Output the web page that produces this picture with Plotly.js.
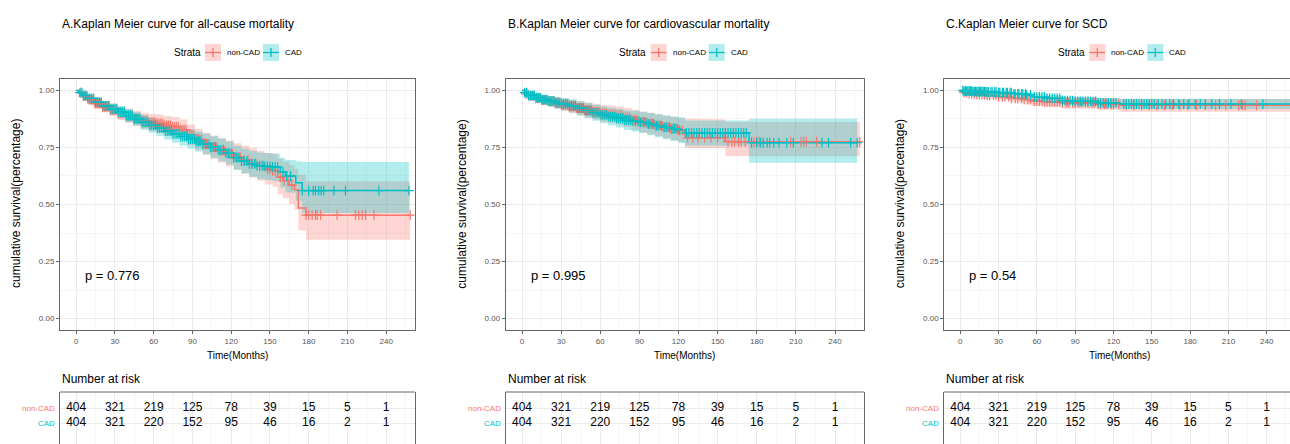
<!DOCTYPE html>
<html>
<head>
<meta charset="utf-8">
<script src="https://cdn.plot.ly/plotly-3.0.1.min.js"></script>
<style>
html,body{margin:0;padding:0;overflow:hidden;background:#fff;width:1290px;height:444px;}
#chart{width:1300px;height:444px;}
</style>
</head>
<body>
<div id="chart"></div>
<script>
// ---------------- DATA ----------------
const groups = ["non-CAD", "CAD"];
const panelTitles = [
  "A.Kaplan Meier curve for all-cause mortality",
  "B.Kaplan Meier curve for cardiovascular mortality",
  "C.Kaplan Meier curve for SCD"
];
const pValues = ["p = 0.776", "p = 0.995", "p = 0.54"];
const xTicks = [0, 30, 60, 90, 120, 150, 180, 210, 240];
const riskNonCAD = [404, 321, 219, 125, 78, 39, 15, 5, 1];
const riskCAD = [404, 321, 220, 152, 95, 46, 16, 2, 1];

// Panel A (all-cause mortality)
const A_nonCAD_time  = [0,2,5,9,14,20,26,32,38,44,50,56,62,68,74,80,86,92,98,104,110,116,122,128,134,140,146,152,156,160,165,169,172,178];
const A_nonCAD_surv  = [1.0,0.99,0.975,0.96,0.942,0.928,0.915,0.9,0.888,0.877,0.867,0.86,0.855,0.847,0.84,0.828,0.805,0.785,0.765,0.75,0.735,0.722,0.708,0.695,0.68,0.668,0.655,0.648,0.62,0.605,0.585,0.565,0.485,0.453];
const A_nonCAD_lower = [1.0,0.98,0.96,0.94,0.92,0.903,0.887,0.87,0.857,0.845,0.833,0.824,0.818,0.808,0.8,0.786,0.761,0.74,0.718,0.7,0.683,0.668,0.652,0.636,0.618,0.604,0.588,0.578,0.545,0.527,0.502,0.478,0.386,0.346];
const A_nonCAD_upper = [1.0,1.0,0.99,0.98,0.965,0.953,0.943,0.93,0.92,0.911,0.902,0.897,0.894,0.888,0.882,0.872,0.851,0.832,0.814,0.802,0.79,0.78,0.768,0.758,0.746,0.736,0.726,0.722,0.7,0.688,0.672,0.656,0.63,0.602];
const A_nonCAD_end = 258.6;
const A_nonCAD_censor = [4,5.5,7,8.5,10,11.5,13,14.5,16,17.5,19,20.5,22,23.5,25,26.5,28,29.5,31,32.5,34,35.5,37,38.5,40,41.5,43,44.5,46,47.5,49,50.5,52,53.5,55,56.5,58,59.5,61,62.5,64,65.5,67,68.5,70,71.5,73,74.5,76,77.5,79,80.5,82,83.5,85,86.5,88,89.5,91,92.5,94,95.5,97,99,101,103,105,107,109,111,113,115,117,119,121,123,125,127,130,133,136,139,142,145,148,150,152,154,158,161,164,167,178,180,182.7,185.3,186.6,189.2,202,216.2,218.8,221.4,224,230.5,258.6];
const A_CAD_time  = [0,2,5,9,14,20,26,32,38,44,50,56,62,68,74,80,86,92,98,104,110,116,122,128,134,140,146,152,158,162,170,175];
const A_CAD_surv  = [1.0,0.99,0.978,0.965,0.948,0.932,0.918,0.905,0.89,0.875,0.86,0.847,0.835,0.822,0.81,0.798,0.787,0.776,0.765,0.752,0.74,0.725,0.705,0.69,0.678,0.67,0.667,0.665,0.642,0.625,0.595,0.561];
const A_CAD_lower = [1.0,0.98,0.965,0.948,0.928,0.909,0.893,0.878,0.861,0.845,0.828,0.814,0.8,0.785,0.772,0.758,0.745,0.732,0.72,0.705,0.691,0.675,0.652,0.636,0.622,0.612,0.607,0.603,0.574,0.553,0.516,0.463];
const A_CAD_upper = [1.0,1.0,0.99,0.982,0.968,0.955,0.943,0.932,0.919,0.905,0.892,0.88,0.87,0.859,0.848,0.838,0.829,0.82,0.81,0.799,0.789,0.776,0.758,0.744,0.734,0.728,0.725,0.722,0.705,0.695,0.69,0.686];
const A_CAD_end = 257.6;
const A_CAD_censor = [3,4.5,6,7.5,9,10.5,12,13.5,15,16.5,18,19.5,21,22.5,24,25.5,27,28.5,30,31.5,33,34.5,36,37.5,39,40.5,42,43.5,45,46.5,48,49.5,51,52.5,54,55.5,57,58.5,60,61.5,63,64.5,66,67.5,69,70.5,72,73.5,75,76.5,78,79.5,81,82.5,84,85.5,87,88.5,90,91.5,93,94.5,96,98,100,102,104,106,108,110,112,114,116,118,120,122,124,126,128,130,132,134,136,138,140,142,144,146,148,150,152,154,156,160,163,166,175,180,183.5,185.3,187.8,189.7,191.7,199.5,208.5,234.3,257.6];

// Panel B (cardiovascular mortality)
const B_nonCAD_time  = [0,2,5,10,15,20,25,30,36,42,48,54,60,66,72,78,84,90,96,102,108,114,120,125,156];
const B_nonCAD_surv  = [1.0,0.985,0.975,0.965,0.958,0.952,0.945,0.938,0.93,0.922,0.914,0.907,0.9,0.895,0.89,0.882,0.872,0.862,0.855,0.848,0.84,0.833,0.825,0.793,0.775];
const B_nonCAD_lower = [1.0,0.972,0.958,0.945,0.936,0.928,0.919,0.91,0.9,0.89,0.88,0.872,0.863,0.857,0.851,0.84,0.828,0.816,0.808,0.8,0.79,0.782,0.773,0.748,0.712];
const B_nonCAD_upper = [1.0,0.998,0.99,0.983,0.979,0.975,0.97,0.965,0.959,0.953,0.947,0.942,0.936,0.933,0.929,0.923,0.915,0.907,0.902,0.896,0.89,0.884,0.877,0.874,0.862];
const B_nonCAD_end = 259;
const B_nonCAD_censor = [3,4.5,6,7.5,9,10.5,12,13.5,15,16.5,18,19.5,21,22.5,24,25.5,27,28.5,30,31.5,33,34.5,36,37.5,39,40.5,42,43.5,45,46.5,48,49.5,51,52.5,54,55.5,57,58.5,60,61.5,63,64.5,66,67.5,69,70.5,72,73.5,75,76.5,78,79.5,81,82.5,84,86,88,90,92,94,96,98,100,102,104,106,108,110,112,114,116,118,120,123,127,131,135,140,145,150,155,158,161,163,166,168,171,176,178,180,182,206,214,216,218,226,259];
const B_CAD_time  = [0,2,5,10,15,20,25,30,36,42,48,54,60,66,72,78,84,90,96,102,108,114,120,125,174];
const B_CAD_surv  = [1.0,0.99,0.978,0.968,0.96,0.953,0.946,0.94,0.932,0.922,0.912,0.902,0.893,0.885,0.878,0.87,0.865,0.86,0.852,0.845,0.838,0.832,0.826,0.814,0.771];
const B_CAD_lower = [1.0,0.98,0.963,0.95,0.94,0.93,0.922,0.913,0.903,0.891,0.879,0.867,0.856,0.846,0.837,0.827,0.82,0.813,0.803,0.795,0.786,0.778,0.77,0.757,0.683];
const B_CAD_upper = [1.0,1.0,0.993,0.986,0.98,0.976,0.97,0.967,0.961,0.953,0.945,0.937,0.93,0.924,0.919,0.913,0.91,0.907,0.901,0.895,0.89,0.886,0.882,0.868,0.876];
const B_CAD_end = 257;
const B_CAD_censor = [2,3.5,5,6.5,8,9.5,11,12.5,14,15.5,17,18.5,20,21.5,23,24.5,26,27.5,29,30.5,32,33.5,35,36.5,38,39.5,41,42.5,44,45.5,47,48.5,50,51.5,53,54.5,56,57.5,59,60.5,62,63.5,65,66.5,68,69.5,71,72.5,74,75.5,77,78.5,80,81.5,83,85,87,89,91,93,95,97,99,101,103,105,107,109,111,113,115,117,119,121,126,128,130,132,134,136,138,140,142,144,146,148,150,152,154,156,158,160,162,164,166,168,170,172,176,180,183,185,188,190,193,197,203,208,230,235,252,257];

// Panel C (SCD)
const C_nonCAD_time  = [0,2,6,12,20,30,40,50,56,65,80,108,125];
const C_nonCAD_surv  = [1.0,0.99,0.985,0.982,0.978,0.972,0.965,0.96,0.953,0.95,0.945,0.94,0.935];
const C_nonCAD_lower = [1.0,0.98,0.975,0.97,0.965,0.957,0.948,0.941,0.932,0.928,0.921,0.914,0.907];
const C_nonCAD_upper = [1.0,1.0,0.995,0.993,0.99,0.986,0.982,0.978,0.974,0.972,0.969,0.966,0.962];
const C_nonCAD_end = 262;
const C_nonCAD_censor = [3,5,7,9,11,13,15,17,19,21,23,26,28,30,33,35,38,40,43,45,48,50,53,55,58,60,62,64,66,68,70,72,74,76,78,80,83,85,88,90,93,95,98,100,103,105,108,110,113,115,118,120,124,130,136,142,148,154,160,166,172,178,185,192,200,208,218,221,223,232];
const C_CAD_time  = [0,3,10,20,30,42,52,58,68,80,90,108,125];
const C_CAD_surv  = [1.0,0.997,0.995,0.993,0.99,0.985,0.98,0.972,0.965,0.955,0.952,0.945,0.94];
const C_CAD_lower = [1.0,0.99,0.988,0.985,0.981,0.974,0.968,0.958,0.95,0.938,0.934,0.925,0.918];
const C_CAD_upper = [1.0,1.0,1.0,1.0,0.998,0.995,0.992,0.986,0.98,0.972,0.97,0.965,0.962];
const C_CAD_end = 262;
const C_CAD_censor = [2,3,4,5,6,7,8,9,10,11,12,13,14,15,16,17,18,19,20,21,22,24,25,27,28,30,31,33,34,36,37,39,40,42,43,45,46,48,49,51,52,55,58,60,62,64,66,68,70,72,74,76,78,80,82,84,86,88,90,92,94,96,98,100,102,104,106,108,110,112,114,116,118,120,122,128,130,132,134,136,138,140,142,144,146,148,150,152,155,158,161,164,167,171,175,179,184,188,192,197,203,212,220,237];

// ---------------- BUILD ----------------
const COL = {"non-CAD": "#F8766D", "CAD": "#00BFC4"};
const FILL = {"non-CAD": "rgba(248,118,109,0.3)", "CAD": "rgba(0,191,196,0.3)"};
const FN = "'Liberation Sans', Arial, sans-serif";
const FR = "'Liberation Sans', Arial, sans-serif";
const W = 1300, H = 444;
const px = v => v / W;
const py = v => (H - v) / H;

const series = [
  {"non-CAD": {t: A_nonCAD_time, s: A_nonCAD_surv, lo: A_nonCAD_lower, hi: A_nonCAD_upper, end: A_nonCAD_end, c: A_nonCAD_censor},
   "CAD":     {t: A_CAD_time, s: A_CAD_surv, lo: A_CAD_lower, hi: A_CAD_upper, end: A_CAD_end, c: A_CAD_censor}},
  {"non-CAD": {t: B_nonCAD_time, s: B_nonCAD_surv, lo: B_nonCAD_lower, hi: B_nonCAD_upper, end: B_nonCAD_end, c: B_nonCAD_censor},
   "CAD":     {t: B_CAD_time, s: B_CAD_surv, lo: B_CAD_lower, hi: B_CAD_upper, end: B_CAD_end, c: B_CAD_censor}},
  {"non-CAD": {t: C_nonCAD_time, s: C_nonCAD_surv, lo: C_nonCAD_lower, hi: C_nonCAD_upper, end: C_nonCAD_end, c: C_nonCAD_censor},
   "CAD":     {t: C_CAD_time, s: C_CAD_surv, lo: C_CAD_lower, hi: C_CAD_upper, end: C_CAD_end, c: C_CAD_censor}}
];

function stepXY(t, v, end) {
  const xs = [], ys = [];
  for (let i = 0; i < t.length; i++) {
    xs.push(t[i]); ys.push(v[i]);
    const next = (i < t.length - 1) ? t[i + 1] : end;
    xs.push(next); ys.push(v[i]);
  }
  return {x: xs, y: ys};
}
function survAt(t, v, x) {
  let k = 0;
  for (let i = 0; i < t.length; i++) if (t[i] <= x) k = i;
  return v[k];
}

const panels = [
  {dx: 0,     x0: 60,    x1: 414.6},
  {dx: 445.7, x0: 505.7, x1: 863.7},
  {dx: 884.3, x0: 944.3, x1: 1294.8}
];
const XR = [-12.5, 262];
const kmY = [py(330), py(79)];
const tabY = [0, py(392)];

const traces = [];
const layout = {
  width: W, height: H,
  margin: {l: 0, r: 0, t: 0, b: 0},
  paper_bgcolor: "#fff", plot_bgcolor: "#fff",
  showlegend: false,
  font: {family: FN, color: "#000"},
  annotations: [], shapes: []
};

panels.forEach((p, i) => {
  const n = i + 1, m = i + 4;
  const xa = "x" + (n === 1 ? "" : n), ya = "y" + (n === 1 ? "" : n);
  const xt = "x" + m, yt = "y" + m;
  layout["xaxis" + (n === 1 ? "" : n)] = {
    domain: [px(p.x0), px(p.x1)], range: XR, anchor: ya,
    tickmode: "array", tickvals: xTicks, ticktext: xTicks.map(String),
    showline: true, mirror: true, linecolor: "#666", linewidth: 1,
    ticks: "outside", ticklen: 3, tickcolor: "#666",
    tickfont: {size: 8, color: "#555", family: FN},
    showgrid: true, gridcolor: "#EBEBEB", zeroline: false,
    minor: {dtick: 15, tick0: 0, showgrid: true, gridcolor: "#F5F5F5", ticks: ""}
  };
  layout["yaxis" + (n === 1 ? "" : n)] = {
    domain: kmY, range: [-0.05, 1.05], anchor: xa,
    tickmode: "array", tickvals: [0, 0.25, 0.5, 0.75, 1], ticktext: ["0.00", "0.25", "0.50", "0.75", "1.00"],
    showline: true, mirror: true, linecolor: "#666", linewidth: 1,
    ticks: "outside", ticklen: 3, tickcolor: "#666",
    tickfont: {size: 8, color: "#555", family: FN},
    showgrid: true, gridcolor: "#EBEBEB", zeroline: false,
    minor: {dtick: 0.125, tick0: 0, showgrid: true, gridcolor: "#F5F5F5", ticks: ""}
  };
  layout["xaxis" + m] = {
    domain: [px(p.x0), px(p.x1)], range: XR, anchor: yt,
    tickmode: "array", tickvals: xTicks, showticklabels: false, ticks: "",
    showline: false, showgrid: true, gridcolor: "#EBEBEB", zeroline: false,
    minor: {dtick: 15, tick0: 0, showgrid: true, gridcolor: "#F5F5F5", ticks: ""}
  };
  layout["yaxis" + m] = {
    domain: tabY, range: [-0.4, 3.07], anchor: xt,
    tickmode: "array", tickvals: [1, 2], showticklabels: false, ticks: "",
    showline: true, mirror: true, linecolor: "#666", linewidth: 1,
    showgrid: true, gridcolor: "#EBEBEB", zeroline: false
  };
  layout.shapes.push({type: "line", xref: xt + " domain", yref: yt + " domain", x0: 0, x1: 1, y0: 1, y1: 1, line: {color: "#666", width: 1}});

  const S = series[i];
  groups.forEach(g => {
    const d = S[g];
    const up = stepXY(d.t, d.hi, d.end);
    const lo = stepXY(d.t, d.lo, d.end);
    traces.push({
      type: "scatter", mode: "lines", xaxis: xa, yaxis: ya,
      x: up.x.concat(lo.x.slice().reverse()), y: up.y.concat(lo.y.slice().reverse()),
      fill: "toself", fillcolor: FILL[g], line: {width: 0}, hoverinfo: "skip"
    });
  });
  groups.forEach(g => {
    const d = S[g];
    traces.push({
      type: "scatter", mode: "lines", xaxis: xa, yaxis: ya, name: g,
      x: d.t.concat([d.end]), y: d.s.concat([d.s[d.s.length - 1]]),
      line: {shape: "hv", color: COL[g], width: 1.5}
    });
  });
  groups.forEach(g => {
    const d = S[g];
    traces.push({
      type: "scatter", mode: "markers", xaxis: xa, yaxis: ya,
      x: d.c, y: d.c.map(x => survAt(d.t, d.s, x)),
      marker: {symbol: "cross-thin", size: 7, color: COL[g], line: {color: COL[g], width: 1.2}},
      hoverinfo: "skip"
    });
  });
  traces.push({type: "scatter", mode: "text", xaxis: xt, yaxis: yt, x: xTicks, y: xTicks.map(() => 2),
    text: riskNonCAD.map(String), textfont: {size: 12, family: FN, color: "#000"}, hoverinfo: "skip"});
  traces.push({type: "scatter", mode: "text", xaxis: xt, yaxis: yt, x: xTicks, y: xTicks.map(() => 1),
    text: riskCAD.map(String), textfont: {size: 12, family: FN, color: "#000"}, hoverinfo: "skip"});

  const A = layout.annotations;
  A.push({xref: "paper", yref: "paper", x: px(p.x0), y: py(24), xanchor: "left", yanchor: "middle", showarrow: false,
    text: panelTitles[i], font: {size: 12, family: FN, color: "#000"}});
  const ldx = p.dx;
  A.push({xref: "paper", yref: "paper", x: px(187 + ldx), y: py(52), xanchor: "center", yanchor: "middle", showarrow: false,
    text: "Strata", font: {size: 10, family: FN, color: "#000"}});
  A.push({xref: "paper", yref: "paper", x: px(225 + ldx), y: py(52), xanchor: "left", yanchor: "middle", showarrow: false,
    text: groups[0], font: {size: 8, family: FN, color: "#000"}});
  A.push({xref: "paper", yref: "paper", x: px(283 + ldx), y: py(52), xanchor: "left", yanchor: "middle", showarrow: false,
    text: groups[1], font: {size: 8, family: FN, color: "#000"}});
  [[205, groups[0]], [263, groups[1]]].forEach(([bx, g]) => {
    layout.shapes.push({type: "rect", xref: "paper", yref: "paper", x0: px(bx + ldx), x1: px(bx + 16 + ldx), y0: py(61), y1: py(44),
      fillcolor: FILL[g], line: {width: 0}});
    layout.shapes.push({type: "line", xref: "paper", yref: "paper", x0: px(bx + ldx), x1: px(bx + 16 + ldx), y0: py(52.5), y1: py(52.5),
      line: {color: COL[g], width: 1.3}});
    layout.shapes.push({type: "line", xref: "paper", yref: "paper", x0: px(bx + 8 + ldx), x1: px(bx + 8 + ldx), y0: py(48), y1: py(57),
      line: {color: COL[g], width: 1.3}});
  });
  A.push({xref: "paper", yref: "paper", x: px(16 + ldx), y: py(204), xanchor: "center", yanchor: "middle", showarrow: false,
    textangle: -90, text: "cumulative survival(percentage)", font: {size: 12, family: FR, color: "#000"}});
  A.push({xref: "paper", yref: "paper", x: px((p.x0 + p.x1) / 2), y: py(355), xanchor: "center", yanchor: "middle", showarrow: false,
    text: "Time(Months)", font: {size: 10, family: FN, color: "#000"}});
  A.push({xref: xa, yref: ya, x: 5, y: 0.19, xanchor: "left", yanchor: "middle", showarrow: false,
    text: pValues[i], font: {size: 13, family: FN, color: "#000"}});
  A.push({xref: "paper", yref: "paper", x: px(p.x0), y: py(379), xanchor: "left", yanchor: "middle", showarrow: false,
    text: "Number at risk", font: {size: 12, family: FN, color: "#000"}});
  A.push({xref: "paper", yref: yt, x: px(p.x0 - 3), y: 2, xanchor: "right", yanchor: "middle", showarrow: false,
    text: groups[0], font: {size: 8, family: FN, color: COL[groups[0]]}});
  A.push({xref: "paper", yref: yt, x: px(p.x0 - 3), y: 1, xanchor: "right", yanchor: "middle", showarrow: false,
    text: groups[1], font: {size: 8, family: FN, color: COL[groups[1]]}});
});

Plotly.newPlot("chart", traces, layout, {displayModeBar: false, staticPlot: true});
</script>
</body>
</html>
